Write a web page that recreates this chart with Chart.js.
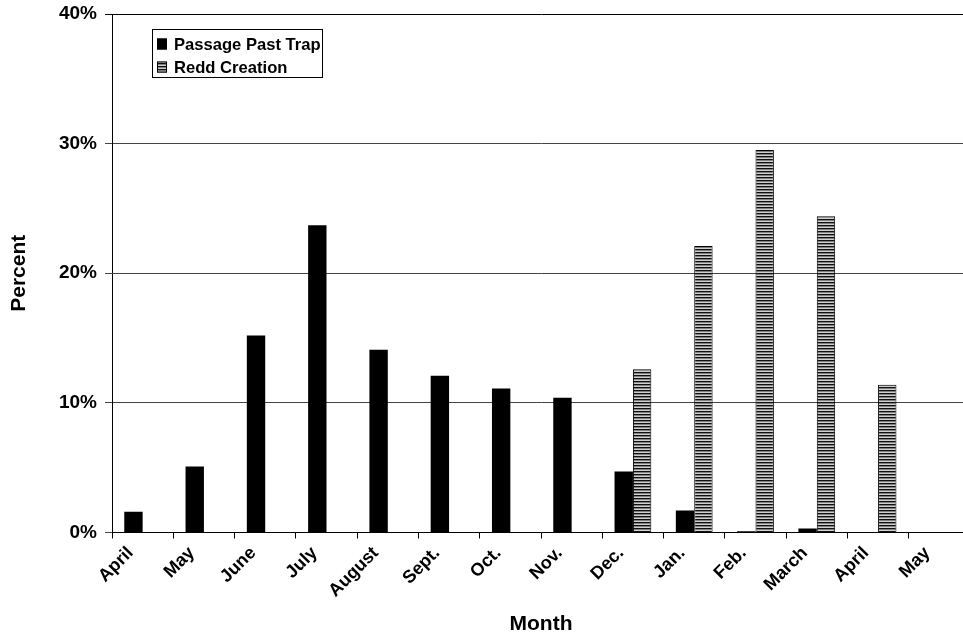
<!DOCTYPE html>
<html>
<head>
<meta charset="utf-8">
<script src="https://cdn.jsdelivr.net/npm/chart.js@4.4.1/dist/chart.umd.min.js"></script>
<style>
  html, body { margin: 0; padding: 0; background: #fff; overflow: hidden; }
  #wrap { width: 972px; height: 637px; }
</style>
</head>
<body>
<div id="wrap"><canvas id="c" width="972" height="637"></canvas></div>
<script>
// Month categories (spawning run spans two calendar years)
const months = ['April', 'May', 'June', 'July', 'August', 'Sept.', 'Oct.', 'Nov.',
                'Dec.', 'Jan.', 'Feb.', 'March', 'April', 'May'];

// Percent of fish passing the trap each month
const passagePastTrap = [1.6, 5.1, 15.2, 23.7, 14.1, 12.1, 11.1, 10.4,
                         4.7, 1.7, 0.1, 0.3, null, null];

// Percent of redds created each month
const reddCreation = [null, null, null, null, null, null, null, null,
                      12.6, 22.1, 29.5, 24.4, 11.4, null];

// Y axis tick values (percent)
const yTicks = [0, 10, 20, 30, 40];

const FONT = '"Liberation Sans", Arial, sans-serif';

// Horizontal line hatch used for the redd series
function hatchPattern() {
  const p = document.createElement('canvas');
  p.width = 4; p.height = 3;
  const g = p.getContext('2d');
  g.fillStyle = '#111';
  g.fillRect(0, 0, 4, 1);
  g.fillStyle = '#808080';
  g.fillRect(0, 1, 4, 1);
  g.fillStyle = '#cfcfcf';
  g.fillRect(0, 2, 4, 1);
  return document.getElementById('c').getContext('2d').createPattern(p, 'repeat');
}
const hatch = hatchPattern();

// Boxed legend drawn inside the plot area
const boxLegend = {
  id: 'boxLegend',
  afterDraw(chart) {
    const ctx = chart.ctx;
    const x0 = 152.5, y0 = 29.5, w = 170, h = 48;
    ctx.save();
    ctx.fillStyle = '#fff';
    ctx.fillRect(x0, y0, w, h);
    ctx.strokeStyle = '#000';
    ctx.lineWidth = 1;
    ctx.strokeRect(x0, y0, w, h);
    ctx.font = 'bold 16.6px ' + FONT;
    ctx.textBaseline = 'middle';
    chart.data.datasets.forEach((ds, i) => {
      const cy = 44 + i * 23;
      ctx.fillStyle = ds.backgroundColor;
      ctx.fillRect(157, cy - 5.5, 10, 11);
      ctx.strokeStyle = '#000';
      ctx.strokeRect(157.5, cy - 5, 9, 10);
      ctx.fillStyle = '#000';
      ctx.fillText(ds.label, 174, cy + 1);
    });
    ctx.restore();
  }
};

new Chart(document.getElementById('c'), {
  type: 'bar',
  data: {
    labels: months,
    datasets: [
      {
        label: 'Passage Past Trap',
        data: passagePastTrap,
        backgroundColor: '#000',
        borderColor: '#000',
        borderWidth: 0
      },
      {
        label: 'Redd Creation',
        data: reddCreation,
        backgroundColor: hatch,
        borderColor: '#000',
        borderWidth: 1
      }
    ]
  },
  options: {
    responsive: false,
    animation: false,
    devicePixelRatio: 1,
    layout: { padding: { top: 14, right: 2, left: 0, bottom: 0 } },
    datasets: { bar: { categoryPercentage: 0.6, barPercentage: 1.0 } },
    plugins: {
      legend: { display: false },
      tooltip: { enabled: false }
    },
    scales: {
      x: {
        grid: {
          drawOnChartArea: false,
          drawTicks: true,
          tickLength: 6,
          color: '#000',
          offset: true
        },
        border: { color: '#000', width: 1 },
        ticks: {
          minRotation: 45,
          maxRotation: 45,
          autoSkip: false,
          padding: 4,
          labelOffset: -12,
          color: '#000',
          font: { family: FONT, size: 18, weight: 'bold' }
        },
        title: {
          display: true,
          text: 'Month',
          color: '#000',
          padding: { top: 0, bottom: 0 },
          font: { family: FONT, size: 21, weight: 'bold' }
        },
        afterFit(scale) { scale.height = 104.5; }
      },
      y: {
        min: 0,
        max: 40,
        afterBuildTicks(scale) { scale.ticks = yTicks.map(v => ({ value: v })); },
        grid: {
          color: ctx => (ctx.tick && ctx.tick.value === 40 ? '#000' : '#444'),
          tickLength: 7,
          drawTicks: true
        },
        border: { color: '#000', width: 1 },
        ticks: {
          padding: 8,
          color: '#000',
          font: { family: FONT, size: 19, weight: 'bold' },
          callback: v => v + '%'
        },
        title: {
          display: true,
          text: 'Percent',
          color: '#000',
          padding: { top: 7, bottom: 0 },
          font: { family: FONT, size: 21, weight: 'bold' }
        },
        afterFit(scale) {
          scale.width = 112;
          scale.paddingTop = 0;
          scale.paddingBottom = 0;
        }
      }
    }
  },
  plugins: [boxLegend]
});
</script>
</body>
</html>
